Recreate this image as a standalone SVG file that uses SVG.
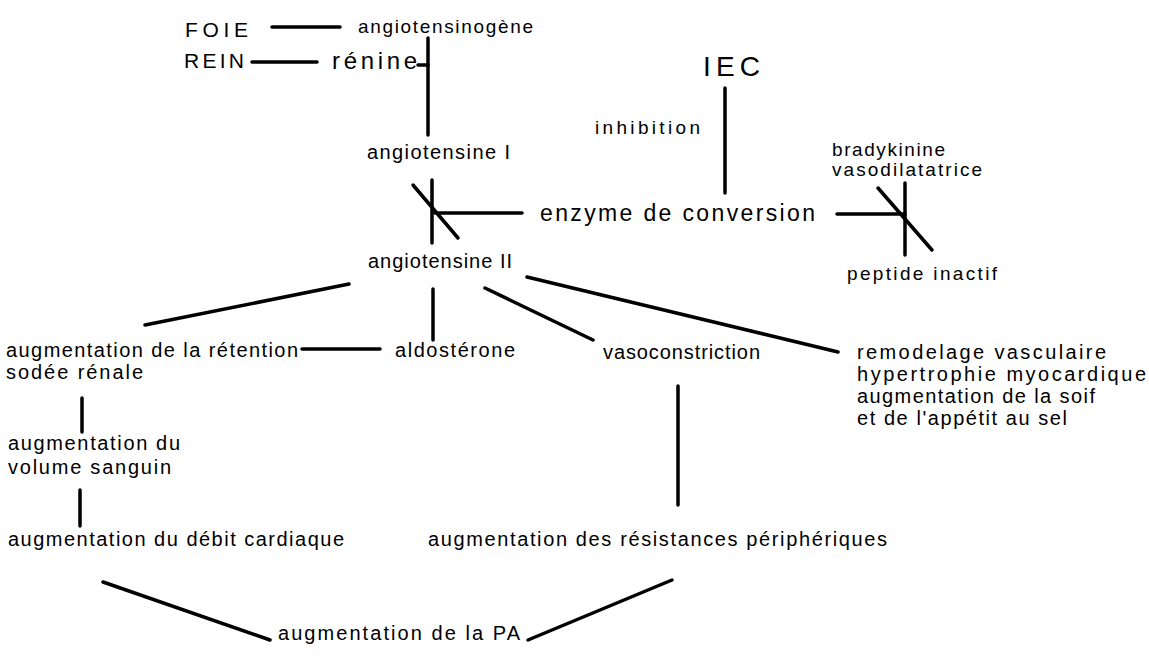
<svg xmlns="http://www.w3.org/2000/svg" width="1149" height="671" viewBox="0 0 1149 671">
<style>
.t{font-family:"Liberation Sans",Arial,sans-serif;font-size:20px;fill:#000}
.big{font-size:23px}
.c line{stroke:#000;stroke-width:3.5;stroke-linecap:round}
</style>
<rect width="1149" height="671" fill="#fff"/>
<g class="c" id="connectors">
<line x1="272" y1="27" x2="340" y2="27"/>
<line x1="252" y1="62" x2="317" y2="62"/>
<line x1="418" y1="65" x2="428" y2="65"/>
<line x1="428" y1="38" x2="428" y2="135"/>
<line x1="432" y1="180" x2="432" y2="243"/>
<line x1="413" y1="185" x2="458" y2="238"/>
<line x1="435" y1="213" x2="522" y2="213"/>
<line x1="725" y1="88" x2="725" y2="193"/>
<line x1="837" y1="214" x2="905" y2="214"/>
<line x1="905" y1="183" x2="905" y2="255"/>
<line x1="878" y1="188" x2="932" y2="250"/>
<line x1="145" y1="325" x2="349" y2="284"/>
<line x1="433" y1="289" x2="433" y2="340"/>
<line x1="485" y1="288" x2="593" y2="340"/>
<line x1="527" y1="277" x2="838" y2="352"/>
<line x1="302" y1="349" x2="380" y2="349"/>
<line x1="82" y1="398" x2="82" y2="432"/>
<line x1="80" y1="490" x2="80" y2="526"/>
<line x1="678" y1="386" x2="678" y2="505"/>
<line x1="103" y1="582" x2="270" y2="640"/>
<line x1="528" y1="640" x2="672" y2="580"/>
</g>
<g id="foie"><text class="t" style="font-size:21px" x="185" y="37" textLength="63">FOIE</text></g>
<g id="angiotensinogene"><text class="t" style="font-size:19px" x="358" y="33" textLength="175">angiotensinogène</text></g>
<g id="rein"><text class="t" style="font-size:21px" x="184" y="68" textLength="60">REIN</text></g>
<g id="renine"><text class="t" style="font-size:24px" x="332" y="69" textLength="85">rénine</text></g>
<g id="angiotensine1"><text class="t" x="367" y="159" textLength="143">angiotensine I</text></g>
<g id="enzyme"><text class="t big" x="540" y="221" textLength="275">enzyme de conversion</text></g>
<g id="angiotensine2"><text class="t" x="368" y="268" textLength="144">angiotensine II</text></g>
<g id="iec"><text class="t" style="font-size:28px" x="703" y="76" textLength="57">IEC</text></g>
<g id="inhibition"><text class="t" style="font-size:19px" x="595" y="134" textLength="105">inhibition</text></g>
<g id="bradykinine"><text class="t" style="font-size:19px" x="832" y="156" textLength="113">bradykinine</text><text class="t" style="font-size:19px" x="832" y="176" textLength="150">vasodilatatrice</text></g>
<g id="peptide"><text class="t" style="font-size:19px" x="847" y="280" textLength="150">peptide inactif</text></g>
<g id="retention"><text class="t" x="6" y="357" textLength="292">augmentation de la rétention</text><text class="t" x="6" y="379" textLength="137">sodée rénale</text></g>
<g id="aldosterone"><text class="t" x="395" y="357" textLength="120">aldostérone</text></g>
<g id="vasoconstriction"><text class="t" x="603" y="359" textLength="157">vasoconstriction</text></g>
<g id="remodelage"><text class="t" x="857" y="359" textLength="249">remodelage vasculaire</text><text class="t" x="857" y="381" textLength="289">hypertrophie myocardique</text><text class="t" x="857" y="403" textLength="238">augmentation de la soif</text><text class="t" x="857" y="425" textLength="210">et de l'appétit au sel</text></g>
<g id="volume"><text class="t" x="8" y="450" textLength="172">augmentation du</text><text class="t" x="8" y="474" textLength="163">volume sanguin</text></g>
<g id="debit"><text class="t" x="8" y="546" textLength="336">augmentation du débit cardiaque</text></g>
<g id="resistances"><text class="t" x="428" y="546" textLength="459">augmentation des résistances périphériques</text></g>
<g id="pa"><text class="t" x="278" y="640" textLength="242">augmentation de la PA</text></g>
</svg>
